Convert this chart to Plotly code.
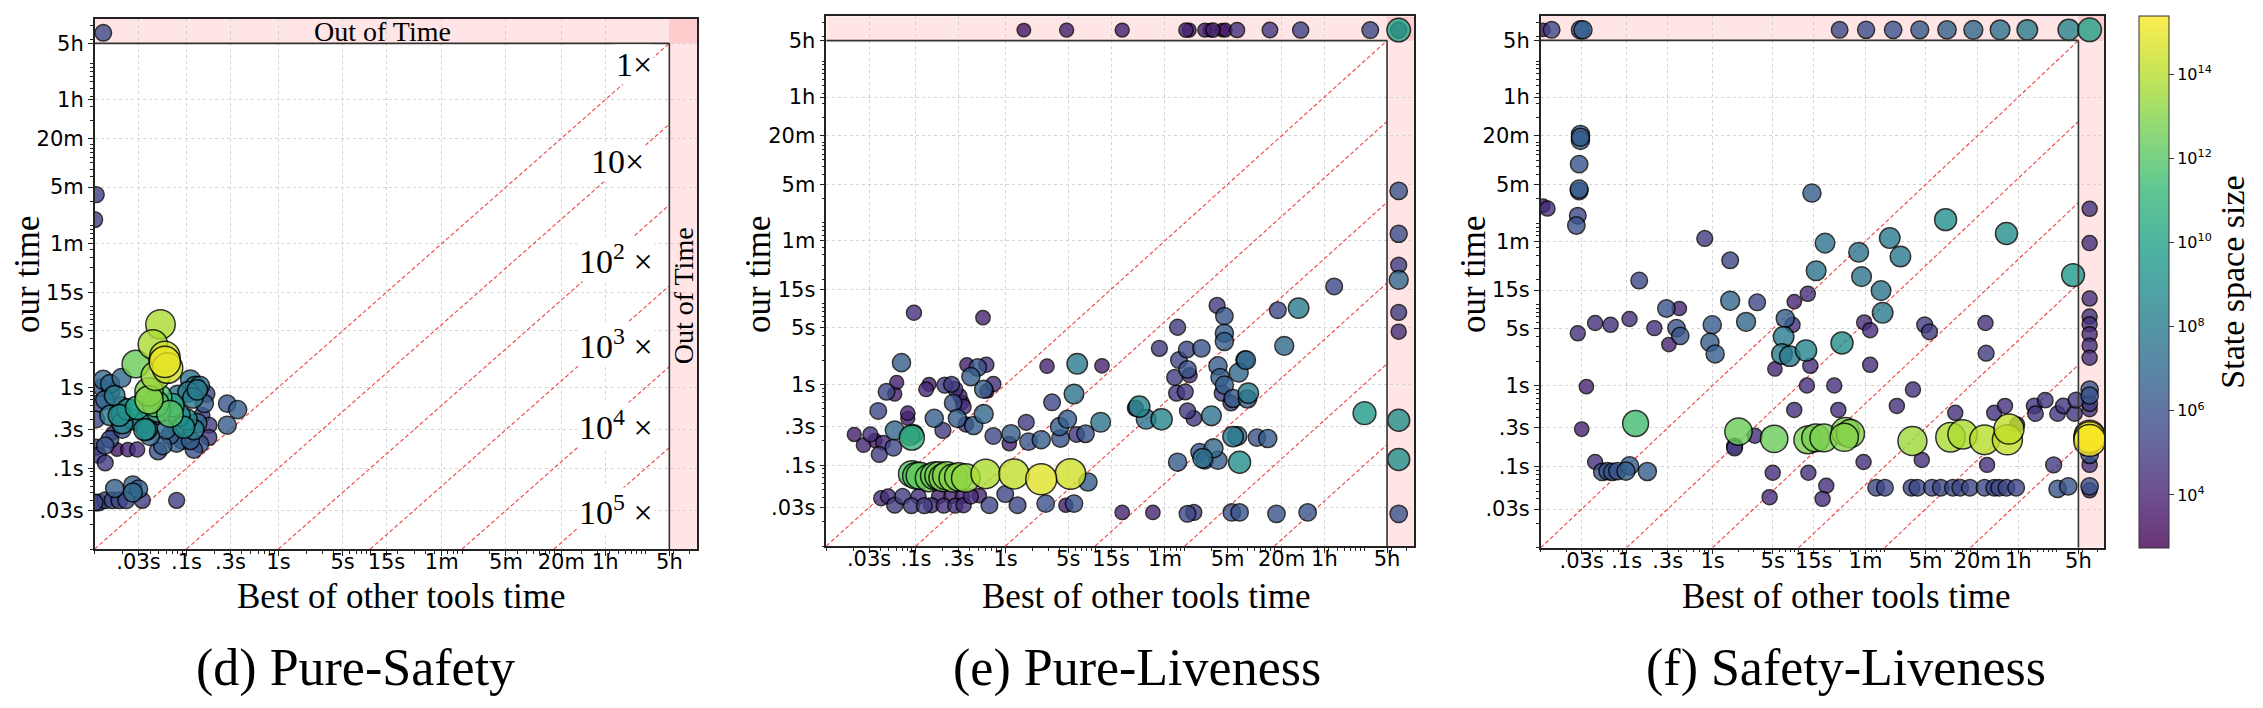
import numpy as np
import plotly.graph_objects as go

TO = 24300      # where time-outs are drawn (inside the "Out of Time" band)
LIMIT = 18000   # 5h time limit

TICK_VALS = [0.03, 0.1, 0.3, 1, 5, 15, 60, 300, 1200, 3600, 18000]
TICK_TEXT = [".03s", ".1s", ".3s", "1s", "5s", "15s", "1m", "5m", "20m", "1h", "5h"]
SPEEDUPS = [1, 10, 100, 1000, 10000, 100000]
SPEEDUP_TEXT = ["1×", "10×", "10<sup>2</sup> ×", "10<sup>3</sup> ×", "10<sup>4</sup> ×", "10<sup>5</sup> ×"]
CB_TICKS = [4, 6, 8, 10, 12, 14]
TITLES = ["(d) Pure-Safety", "(e) Pure-Liveness", "(f) Safety-Liveness"]

# ---------------- (d) Pure-Safety ----------------
d_other = [0.0124, 0.0104, 0.010, 0.052, 0.043, 0.058, 0.058, 0.062, 0.028, 0.046,
           0.039, 0.039, 0.046, 0.066, 0.049, 0.029, 0.023, 0.0185, 0.083, 0.093,
           0.037, 0.033, 0.026, 0.0147, 0.0196, 0.0165, 0.0124, 0.0147, 0.0196, 0.013,
           0.0196, 0.011, 0.0104, 0.110, 0.124, 0.139, 0.104, 0.117, 0.131, 0.165,
           0.156, 0.147, 0.277, 0.36, 0.277, 0.175, 0.175, 0.078, 0.078, 0.066,
           0.049, 0.0156, 0.0147, 0.013, 0.0104, 0.011, 0.013, 0.0175, 0.023, 0.029,
           0.049, 0.055, 0.0165, 0.026, 0.026, 0.011, 0.013, 0.0156, 0.0185, 0.022,
           0.033, 0.078, 0.010, 0.10, 0.12, 0.13, 0.06, 0.04, 0.02, 0.015,
           0.012, 0.02, 0.035, 0.07, 0.05, 0.08, 0.09, 0.11, 0.14, 0.12,
           0.03]
d_ours = [TO, 242, 119, 6.0, 3.4, 2.4, 2.06, 1.73, 1.94, 1.38,
          0.88, 0.70, 0.63, 0.47, 0.53, 0.56, 0.53, 0.45, 0.45, 0.32,
          0.30, 0.36, 0.40, 0.45, 0.47, 0.79, 1.24, 1.1, 1.31, 0.70,
          0.59, 0.63, 0.40, 1.24, 1.04, 1.04, 0.88, 0.74, 0.93, 0.83,
          0.63, 0.45, 0.63, 0.53, 0.34, 0.34, 0.24, 0.32, 0.204, 0.255,
          0.42, 0.27, 0.228, 0.19, 0.182, 0.145, 0.116, 0.17, 0.17, 0.17,
          0.163, 0.19, 0.056, 0.062, 0.050, 0.0375, 0.040, 0.040, 0.040, 0.040,
          0.040, 0.040, 0.0375, 0.40, 0.30, 0.36, 0.30, 0.25, 0.30, 0.9,
          1.0, 0.36, 0.30, 0.60, 0.75, 0.80, 0.22, 0.22, 0.20, 0.17,
          0.055]
d_logstate = [5.5, 5.0, 5.0, 13.8, 13.8, 14.5, 15.0, 14.5, 12.5, 13.5,
              13.0, 13.0, 12.0, 12.0, 11.0, 10.0, 9.0, 9.0, 9.0, 9.0,
              8.5, 8.0, 8.0, 8.0, 8.0, 8.0, 7.0, 7.0, 7.0, 7.0,
              6.5, 5.5, 5.5, 7.5, 7.5, 7.5, 8.0, 8.0, 8.0, 5.5,
              6.5, 5.0, 6.0, 6.5, 6.5, 5.0, 5.0, 6.5, 6.5, 6.5,
              3.5, 3.5, 6.0, 6.0, 5.0, 5.0, 5.0, 3.5, 4.0, 4.5,
              6.0, 6.5, 6.5, 6.5, 7.0, 5.5, 5.5, 5.5, 5.5, 5.5,
              5.0, 5.0, 5.5, 8.5, 8.0, 7.5, 7.0, 7.0, 6.0, 6.5,
              6.0, 8.5, 9.0, 10.0, 11.5, 7.5, 6.0, 6.5, 6.0, 6.0,
              6.5]

# ---------------- (e) Pure-Liveness ----------------
e_other = [0.0205, 0.026, 0.031, 0.035, 0.043, 0.039, 0.056, 0.058, 0.086, 0.090,
           0.095, 0.038, 0.047, 0.058, 0.061, 0.069, 0.095, 0.081, 0.081, 0.13,
           0.14, 0.16, 0.20, 0.21, 0.25, 0.275, 0.26, 0.31, 0.33, 0.34,
           0.36, 0.29, 0.37, 0.41, 0.49, 0.61, 0.56, 0.57, 0.44, 0.57,
           0.62, 0.73, 0.73, 1.1, 1.15, 1.7, 1.8, 2.5, 2.9, 3.3,
           4.0, 4.1, 4.9, 6.3, 5.8, 6.2, 7.8, 11.5, 11.9, 28,
           31, 37, 55, 52, 83, 86, 83, 77, 81, 101,
           105, 107, 113, 107, 126, 153, 158, 146, 167, 198,
           209, 229, 234, 234, 247, 261, 276, 276, 276, 276,
           327, 345, 345, 385, 399, 408, 467, 482, 499, 510,
           637, 841, 1089, 1285, 1858, 4634, 10100, 0.090, 0.11, 0.14,
           0.18, 0.22, 0.26, 0.36, 0.60, 1.24, 2.5, 5.3, 8.3, 0.10,
           0.16, 0.30, 0.20, 0.041, 0.049, 0.058, 0.071, 0.089, 0.107, 0.124,
           0.149, 0.18, 0.204, 0.247, 0.275, 0.33, 0.34, 0.41, 0.51, 0.66,
           0.99, 1.36, 2.8, 4.7, 5.8, 20, 44, 107, 126, 334,
           408, 1052, 2344, 1.6, 4.8, 20, 103, 112, 167, 190,
           206, 260, 282, 383, 890, 1960, 11700, TO, TO, TO,
           TO, TO, TO, TO, TO, TO, TO, TO]
e_ours = [0.24, 0.177, 0.24, 0.202, 0.19, 0.136, 0.165, 0.27, 0.23, 0.22,
          0.245, 0.47, 0.81, 0.76, 1.06, 1.86, 7.7, 0.44, 0.38, 0.87,
          1.0, 0.38, 0.27, 0.98, 1.0, 0.87, 0.59, 0.72, 0.60, 0.53,
          0.32, 0.38, 1.75, 1.25, 1.62, 1.75, 6.7, 0.43, 0.31, 0.87,
          0.83, 1.01, 0.23, 0.185, 0.245, 0.34, 0.196, 0.207, 1.68, 0.60,
          0.30, 0.214, 0.37, 1.8, 0.76, 0.24, 0.245, 0.34, 1.7, 0.51,
          0.53, 0.37, 0.37, 2.8, 5.1, 2.0, 0.109, 1.22, 0.78, 0.81,
          2.7, 1.53, 1.3, 0.47, 0.38, 2.8, 0.122, 0.145, 0.115, 0.41,
          0.162, 9.5, 1.7, 0.115, 1.22, 0.78, 7.0, 4.3, 3.4, 0.98,
          0.59, 0.67, 0.226, 0.23, 1.4, 0.109, 2.0, 2.0, 0.66, 0.78,
          0.22, 0.214, 8.3, 3.0, 8.8, 16.3, 0.44, 0.078, 0.074, 0.0695,
          0.074, 0.074, 0.0695, 0.0695, 0.078, 0.078, 0.067, 0.078, 0.062, 0.074,
          0.074, 0.072, 0.07, 0.039, 0.041, 0.032, 0.041, 0.0316, 0.041, 0.0316,
          0.032, 0.041, 0.0316, 0.041, 0.0316, 0.041, 0.032, 0.041, 0.042, 0.032,
          0.044, 0.032, 0.0335, 0.032, 0.0335, 0.026, 0.026, 0.025, 0.026, 0.026,
          0.026, 0.025, 0.026, TO, TO, TO, TO, TO, TO, TO,
          TO, TO, TO, TO, TO, TO, TO, 248, 73, 30,
          19.7, 7.8, 4.5, 0.36, 0.118, 0.025, TO, TO]
e_logstate = [3.8, 4.0, 4.5, 3.8, 4.2, 5.0, 5.5, 7.0, 7.0, 11.0,
              6.5, 5.5, 5.5, 3.8, 3.8, 6.5, 4.5, 4.0, 3.8, 4.2,
              3.8, 6.5, 5.0, 5.0, 5.0, 4.5, 6.0, 3.8, 3.6, 4.5,
              4.5, 6.5, 3.8, 6.5, 6.0, 4.5, 4.0, 7.0, 6.5, 6.5,
              3.8, 4.5, 5.5, 4.0, 6.5, 5.0, 6.0, 6.5, 4.0, 5.5,
              6.5, 6.0, 6.5, 8.0, 7.5, 4.8, 6.0, 7.5, 4.0, 5.0,
              8.5, 7.5, 8.5, 5.0, 5.0, 5.5, 6.5, 5.0, 5.0, 5.0,
              5.5, 6.0, 4.5, 5.0, 4.8, 6.0, 7.5, 6.0, 6.0, 7.5,
              7.0, 5.0, 6.5, 6.5, 6.5, 5.0, 6.0, 6.5, 6.5, 6.5,
              5.0, 6.5, 8.0, 7.0, 7.0, 9.0, 6.5, 7.0, 6.5, 8.0,
              6.0, 6.5, 5.5, 7.0, 8.0, 5.5, 9.5, 12.0, 12.3, 12.5,
              12.8, 13.0, 13.0, 13.3, 13.8, 14.2, 14.8, 14.5, 6.5, 12.0,
              12.5, 13.0, 12.8, 4.5, 4.5, 5.0, 5.0, 5.0, 4.5, 5.0,
              4.5, 4.0, 4.5, 4.0, 4.5, 4.0, 4.5, 4.5, 4.0, 5.5,
              5.5, 5.5, 6.0, 3.8, 6.0, 4.0, 4.0, 5.5, 5.0, 6.0,
              6.0, 6.0, 6.0, 3.5, 3.8, 3.8, 4.0, 3.6, 3.8, 3.5,
              4.0, 3.5, 3.6, 4.5, 4.8, 5.2, 5.5, 6.0, 5.8, 5.0,
              7.0, 5.0, 4.5, 9.0, 9.0, 6.0, 10.0, 5.0]

# ---------------- (f) Safety-Liveness ----------------
f_other = [0.0107, 0.0134, 0.029, 0.031, 30, 61, 126, 257, 533, 1079,
           2208, 4581, 13870, TO, TO, TO, TO, TO, TO, TO,
           TO, TO, TO, TO, TO, TO, TO, TO, TO, TO,
           TO, TO, TO, TO, 0.012, 0.0107, 0.029, 0.029, 0.029, 0.028,
           0.028, 0.028, 0.027, 0.026, 0.027, 0.043, 0.065, 0.108, 0.14, 0.21,
           0.29, 0.41, 0.38, 0.42, 0.31, 0.034, 0.030, 0.127, 0.043, 0.052,
           0.060, 0.068, 0.078, 0.108, 0.098, 0.174, 0.81, 1.6, 1.6, 3.3,
           0.99, 0.93, 1.07, 2.45, 14.3, 20.3, 16, 50, 54, 115,
           153, 91, 95, 513, 2618, 15600, 12.8, 8.9, 7.0, 8.5,
           6.7, 6.4, 7.9, 12.2, 32, 5.3, 13.7, 12.5, 26, 8.9,
           29, 58, 68, 68, 57, 139, 214, 293, 333, 271,
           665, 1493, 1520, 1560, 1888, 2518, 3483, 5500, 7400, 5700,
           10300, 12000, 16900, 16200, 9270, 10300, 13700, 80, 101, 206,
           241, 356, 451, 624, 759, 984, 1455, 1888, 2153, 2618,
           3396, 5.0, 4.6, 13, 21, 19, 1.8, 1.8, 3.1, 2.0,
           5.2, 12.8, 15.8, 19.7, 35, 40, 34, 211, 585, 809,
           1455, 2685, 2800]
f_ours = [TO, TO, TO, TO, TO, TO, TO, TO, TO, TO,
          TO, TO, TO, TO, 151, 57, 11.8, 7.1, 5.7, 4.3,
          3.1, 2.2, 0.89, 0.75, 0.60, 0.51, 0.23, 0.196, 0.14, 0.105,
          0.057, 0.051, 0.21, 0.24, 152, 165, 1245, 1052, 1150, 536,
          264, 250, 124, 94, 4.4, 5.9, 5.6, 6.6, 19.7, 5.1,
          8.9, 8.9, 5.1, 4.1, 3.2, 0.97, 0.29, 0.34, 0.114, 0.086,
          0.088, 0.086, 0.088, 0.102, 0.088, 0.087, 65, 35, 11.1, 10.6,
          5.6, 3.4, 2.45, 6.1, 236, 57, 26, 44, 22, 66,
          39, 14.8, 7.9, 111, 75, 23, 13.5, 10.8, 6.7, 5.6,
          4.0, 2.45, 2.3, 2.7, 3.35, 1.6, 1.75, 1.0, 1.0, 0.50,
          0.50, 6.0, 4.8, 1.8, 0.114, 0.56, 0.89, 5.6, 4.6, 0.121,
          0.46, 5.9, 2.5, 0.105, 0.46, 0.56, 0.33, 0.56, 0.66, 0.45,
          0.45, 0.56, 0.66, 0.45, 0.105, 0.053, 0.057, 0.055, 0.055, 0.055,
          0.055, 0.055, 0.055, 0.055, 0.055, 0.055, 0.055, 0.055, 0.055, 0.055,
          0.055, 0.084, 0.042, 0.084, 0.058, 0.040, 0.179, 0.17, 0.24, 0.27,
          0.22, 0.214, 0.226, 0.226, 0.27, 0.255, 0.23, 0.207, 0.23, 0.25,
          0.214, 0.214, 0.29]
f_logstate = [3.5, 5.5, 6.5, 6.5, 5.5, 5.8, 6.0, 6.3, 6.6, 7.0,
              7.5, 8.0, 8.5, 10.0, 4.5, 4.5, 4.5, 4.5, 4.5, 4.5,
              4.5, 4.5, 6.0, 6.0, 5.0, 4.5, 15.0, 6.0, 6.0, 4.5,
              6.0, 4.5, 15.3, 14.8, 4.5, 3.5, 6.5, 6.5, 6.5, 6.0,
              6.5, 6.0, 5.5, 6.0, 4.5, 4.5, 4.5, 4.5, 5.5, 4.5,
              6.0, 4.0, 6.0, 6.0, 4.0, 4.0, 4.0, 11.5, 4.5, 6.0,
              6.0, 6.0, 6.0, 6.5, 6.5, 6.5, 5.0, 5.5, 7.0, 5.5,
              6.5, 6.5, 6.5, 7.0, 6.5, 7.5, 7.5, 7.5, 7.5, 8.0,
              8.0, 7.5, 8.0, 9.0, 9.0, 9.5, 4.5, 4.0, 6.5, 4.5,
              8.0, 8.0, 8.0, 8.5, 9.0, 4.0, 4.5, 4.5, 4.5, 4.5,
              4.5, 4.5, 4.5, 4.5, 4.5, 4.5, 4.5, 5.0, 5.0, 4.5,
              4.5, 4.5, 5.0, 4.5, 4.5, 4.5, 4.5, 4.8, 4.8, 4.8,
              4.8, 4.8, 5.0, 4.8, 5.0, 6.0, 6.0, 5.5, 5.5, 5.5,
              5.5, 5.5, 5.5, 5.5, 5.5, 5.5, 5.5, 5.5, 5.5, 5.5,
              5.5, 4.5, 4.5, 4.5, 4.5, 4.5, 5.0, 5.0, 4.5, 12.5,
              12.5, 12.8, 12.8, 12.8, 13.0, 13.0, 13.0, 13.5, 13.8, 13.8,
              14.0, 14.2, 14.2]

# ---------------- styling ----------------
W, H = 2263, 708
SERIF = "Liberation Serif"
SANS = "DejaVu Sans"
CMIN, CMAX = 2.74, 15.38
AX_MIN, AX_MAX = 0.01, 36000
LOG_LO, LOG_HI = np.log10(AX_MIN), np.log10(AX_MAX)
VIRIDIS = ['#440154', '#482878', '#3e4989', '#31688e', '#26828e',
           '#1f9e89', '#35b779', '#6ece58', '#b5de2b', '#fde725']


def blend(hexc, a=0.8):
    r, g, b = int(hexc[1:3], 16), int(hexc[3:5], 16), int(hexc[5:7], 16)
    return "rgb(%d,%d,%d)" % tuple(round(a * c + (1 - a) * 255) for c in (r, g, b))


CB_SCALE = [[i / (len(VIRIDIS) - 1), blend(c)] for i, c in enumerate(VIRIDIS)]
MINOR = [m * 10.0 ** e for e in range(-2, 5) for m in range(1, 10) if m * 10.0 ** e <= AX_MAX]

# pixel boxes of the three plot areas: (left, right, top, bottom)
BOXES = [(94.7, 697.0, 19.0, 549.0), (826.3, 1414.0, 16.3, 546.0), (1540.7, 2104.3, 16.0, 547.7)]
XTITLE_X = [401, 1146, 1846]
YTITLE_X = [28, 759, 1474]
TITLE_X = [355, 1137, 1846]

panels = [(d_other, d_ours, d_logstate), (e_other, e_ours, e_logstate), (f_other, f_ours, f_logstate)]
for o, u, l in panels:
    if not (len(o) == len(u) == len(l)):
        raise ValueError("length mismatch %d %d %d" % (len(o), len(u), len(l)))

fig = go.Figure()
shapes, annotations = [], []


def ann(text, x, y, size, xref="paper", yref="paper", **kw):
    d = dict(text=text, x=x, y=y, xref=xref, yref=yref, showarrow=False,
             xanchor="center", yanchor="middle",
             font=dict(family=SERIF, size=size, color="black"))
    d.update(kw)
    annotations.append(d)


for i, ((oth, our, ls), box) in enumerate(zip(panels, BOXES)):
    xa = "x" if i == 0 else "x%d" % (i + 1)
    ya = "y" if i == 0 else "y%d" % (i + 1)
    # speed-up diagonals
    for k in SPEEDUPS:
        fig.add_trace(go.Scatter(x=[AX_MIN * k, LIMIT], y=[AX_MIN, LIMIT / k], mode="lines",
                                 line=dict(color="rgba(240,30,30,0.85)", width=1.1, dash="4px,2.5px"),
                                 xaxis=xa, yaxis=ya, showlegend=False, hoverinfo="skip"))
    order = np.argsort(np.array(ls), kind="stable")
    xs = np.array(oth, dtype=float)[order]
    ys = np.array(our, dtype=float)[order]
    cs = np.array(ls, dtype=float)[order]
    fig.add_trace(go.Scatter(
        x=xs, y=ys, mode="markers", xaxis=xa, yaxis=ya, showlegend=False, hoverinfo="skip",
        marker=dict(size=8 + 1.55 * cs, color=cs, colorscale="Viridis", cmin=CMIN, cmax=CMAX,
                    opacity=0.8, line=dict(color="black", width=1.5))))

    # out-of-time bands (shape coordinates are data values)
    shapes.append(dict(type="rect", xref=xa, yref=ya, x0=AX_MIN, x1=AX_MAX, y0=LIMIT, y1=AX_MAX,
                       fillcolor="rgba(255,0,0,0.1)", line=dict(width=0), layer="below"))
    shapes.append(dict(type="rect", xref=xa, yref=ya, x0=LIMIT, x1=AX_MAX, y0=AX_MIN, y1=AX_MAX,
                       fillcolor="rgba(255,0,0,0.1)", line=dict(width=0), layer="below"))
    shapes.append(dict(type="line", xref=xa, yref=ya, x0=AX_MIN, x1=LIMIT, y0=LIMIT, y1=LIMIT,
                       line=dict(color="#333", width=1.6), layer="above"))
    shapes.append(dict(type="line", xref=xa, yref=ya, x0=LIMIT, x1=LIMIT, y0=AX_MIN, y1=LIMIT,
                       line=dict(color="#333", width=1.6), layer="above"))

    left, right, top, bottom = box
    axis_common = dict(type="log", range=[LOG_LO, LOG_HI], tickmode="array", tickvals=TICK_VALS,
                       ticktext=TICK_TEXT, showgrid=True, gridcolor="#d4d4d4", griddash="dot",
                       gridwidth=1, showline=True, linecolor="#222", linewidth=1.5, mirror=True,
                       ticks="outside", ticklen=5, tickwidth=1.2, tickcolor="#222", zeroline=False,
                       tickfont=dict(family=SANS, size=21, color="black"),
                       minor=dict(tickmode="array", tickvals=MINOR, ticks="outside", ticklen=3,
                                  tickcolor="#222", showgrid=False))
    xkey = "xaxis" if i == 0 else "xaxis%d" % (i + 1)
    ykey = "yaxis" if i == 0 else "yaxis%d" % (i + 1)
    fig.update_layout(**{
        xkey: dict(axis_common, domain=[left / W, right / W], anchor=ya, ticklabelstandoff=-12),
        ykey: dict(axis_common, domain=[1 - bottom / H, 1 - top / H], anchor=xa),
    })

    ann("Best of other tools time", XTITLE_X[i] / W, 1 - 596 / H, 35)
    ann("our time", YTITLE_X[i] / W, 1 - 274 / H, 35, textangle=-90)
    ann(TITLES[i], TITLE_X[i] / W, 1 - 668 / H, 52)

# panel (d) extra labels (annotation positions on log axes are given in log units)
label_pos = [(3.874, 3.995), (3.689, 2.796), (3.679, 1.586), (3.679, 0.533), (3.679, -0.471), (3.679, -1.523)]
for (lx, ly), txt in zip(label_pos, SPEEDUP_TEXT):
    ann(txt, lx, ly, 34, xref="x", yref="y", bgcolor="white")
L5H = np.log10(LIMIT)
ann("Out of Time", (LOG_LO + L5H) / 2, (L5H + LOG_HI) / 2, 28, xref="x", yref="y")
ann("Out of Time", (L5H + LOG_HI) / 2, (LOG_LO + L5H) / 2, 28, xref="x", yref="y", textangle=-90)

# colorbar (transparent marker; bar colours are the faded viridis of the markers)
fig.add_trace(go.Scatter(
    x=[f_other[0]], y=[f_ours[0]], mode="markers", xaxis="x3", yaxis="y3", showlegend=False,
    hoverinfo="skip",
    marker=dict(color=[CMIN], cmin=CMIN, cmax=CMAX, colorscale=CB_SCALE, opacity=0, size=1,
                showscale=True,
                colorbar=dict(x=2139 / W, xanchor="left", xpad=0, ypad=0, y=1 - 282 / H,
                              yanchor="middle", len=532, lenmode="pixels", thickness=30,
                              thicknessmode="pixels", outlinewidth=1, outlinecolor="#333",
                              tickmode="array", tickvals=CB_TICKS,
                              ticktext=["10<sup>%d</sup>" % t for t in CB_TICKS],
                              ticks="outside", ticklen=5, tickcolor="#333",
                              tickfont=dict(family=SANS, size=16, color="black"),
                              title=dict(text="State space size", side="right",
                                         font=dict(family=SERIF, size=34, color="black"))))))

fig.update_layout(width=W, height=H, margin=dict(l=0, r=0, t=0, b=0),
                  paper_bgcolor="white", plot_bgcolor="white", showlegend=False,
                  shapes=shapes, annotations=annotations)

fig.write_html("out.html")
